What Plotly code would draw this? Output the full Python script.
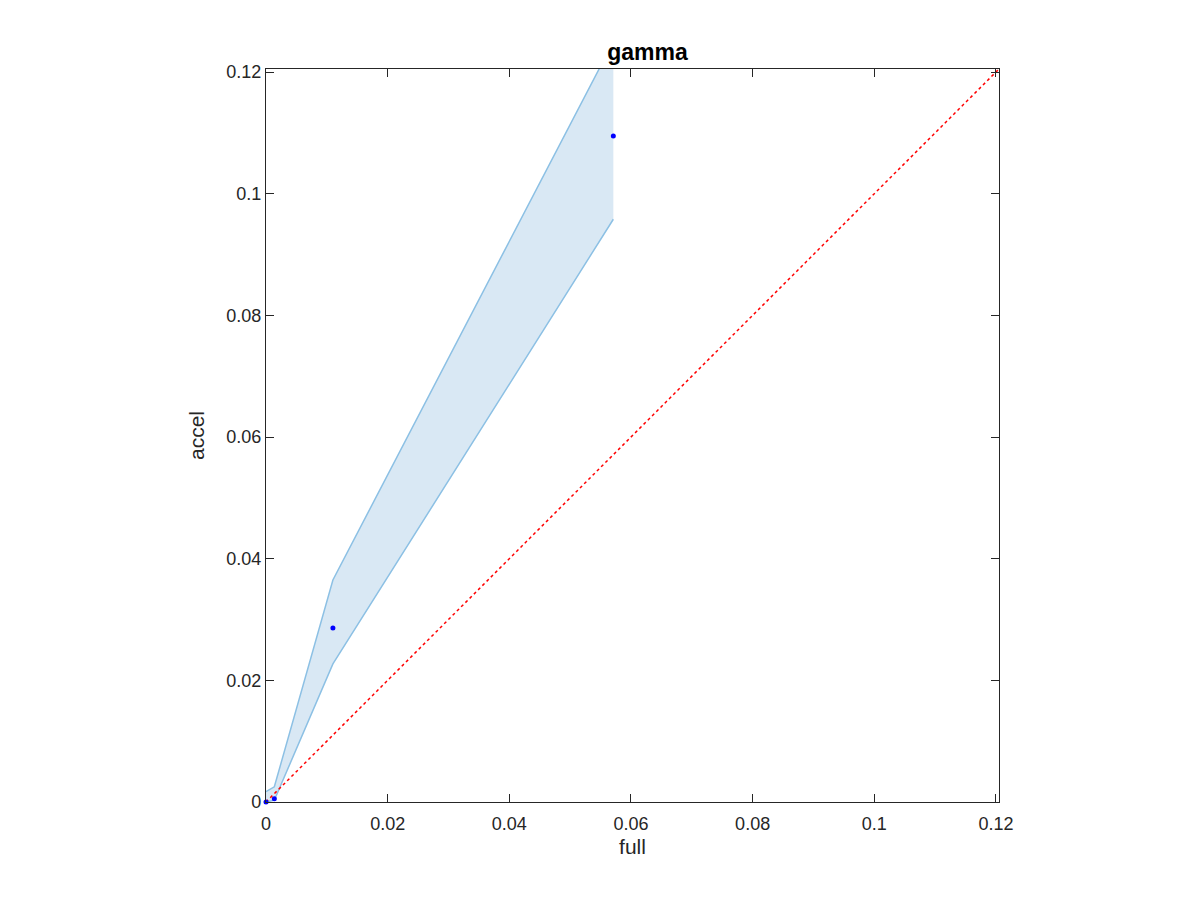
import plotly.graph_objects as go

# Data
full = [0.0, 0.00137, 0.0110, 0.0571]
accel = [0.0, 0.00055, 0.0286, 0.1095]
upper = [0.0017, 0.0025, 0.0365, 0.1250]
lower = [0.0, 0.0003, 0.0227, 0.0958]
axis_max = 0.1205
tick_vals = [0, 0.02, 0.04, 0.06, 0.08, 0.1, 0.12]
tick_text = ["0", "0.02", "0.04", "0.06", "0.08", "0.1", "0.12"]

fill_col = "rgb(217,232,244)"
edge_col = "rgb(140,192,228)"
FONT = "Liberation Sans, Arial, sans-serif"
AXC = "rgb(38,38,38)"

fig = go.Figure()
# band fill
fig.add_trace(go.Scatter(
    x=full + full[::-1], y=upper + lower[::-1],
    fill="toself", fillcolor=fill_col, mode="none", showlegend=False,
    hoverinfo="skip"))
# band edges
fig.add_trace(go.Scatter(x=full, y=upper, mode="lines",
                         line=dict(color=edge_col, width=1.5), showlegend=False))
fig.add_trace(go.Scatter(x=full, y=lower, mode="lines",
                         line=dict(color=edge_col, width=1.5), showlegend=False))
# diagonal
fig.add_trace(go.Scatter(x=[0, axis_max], y=[0, axis_max], mode="lines",
                         line=dict(color="red", width=1.5, dash="dot"),
                         showlegend=False))
# points
fig.add_trace(go.Scatter(x=full, y=accel, mode="markers",
                         marker=dict(color="blue", size=5),
                         cliponaxis=False, showlegend=False))

axis_common = dict(
    range=[0, axis_max], tickvals=tick_vals, ticktext=tick_text,
    ticks="inside", ticklen=8, tickwidth=1, tickcolor=AXC,
    showline=True, linecolor=AXC, linewidth=1.3, mirror="ticks",
    showgrid=False, zeroline=False,
    tickfont=dict(family=FONT, size=18, color=AXC),
)

L, T, W, H = 258, 61, 733, 733
fig.update_layout(
    width=1200, height=900,
    paper_bgcolor="white", plot_bgcolor="white",
    margin=dict(l=L, r=1200 - L - W, t=T, b=900 - T - H),
    title=dict(text="<b>gamma</b>", x=(L + W / 2) / 1200, xanchor="center", xref="paper",
               y=1 - 52 / 900, yanchor="bottom", yref="container",
               font=dict(family=FONT, size=23, color="black")),
    xaxis=dict(axis_common, ticklabelstandoff=5,
               title=dict(text="full", standoff=6,
                          font=dict(family=FONT, size=21, color=AXC))),
    yaxis=dict(axis_common, title=dict(text="accel", standoff=15,
               font=dict(family=FONT, size=21, color=AXC))),
    font=dict(family=FONT),
)

fig.write_html("out.html")
